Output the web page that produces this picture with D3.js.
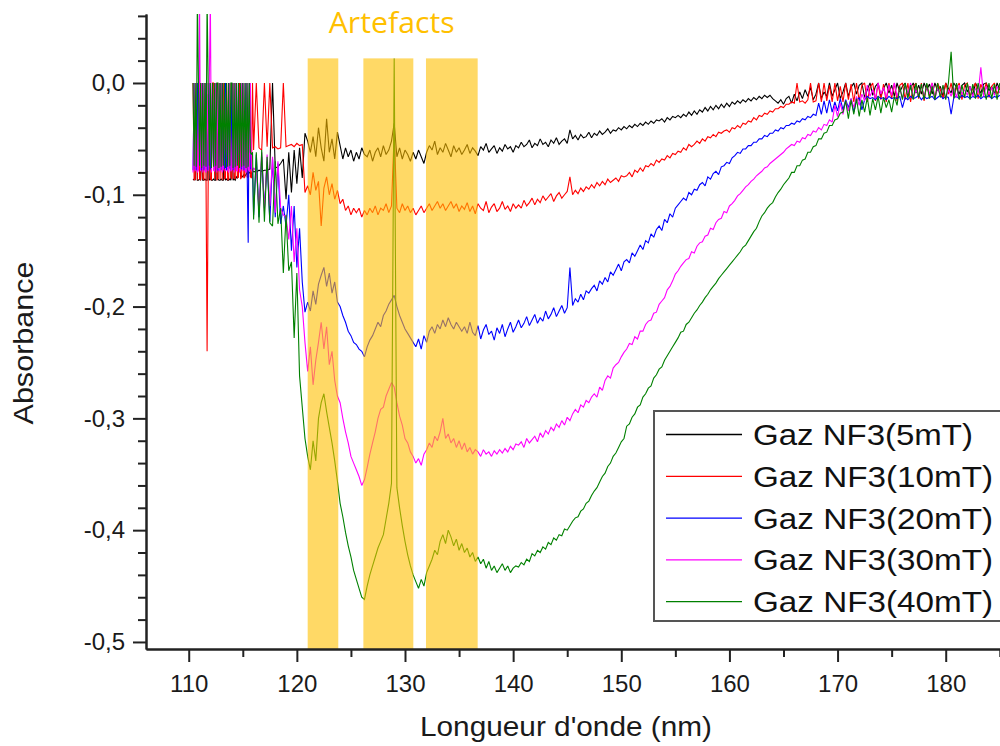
<!DOCTYPE html>
<html><head><meta charset="utf-8">
<script src="https://cdn.jsdelivr.net/npm/d3@7"></script>
<style>
body{margin:0;background:#fff}
svg{display:block}
text{font-family:"Liberation Sans",Arial,sans-serif}
</style>
</head><body>
<svg id="c" width="1000" height="746"></svg>
<script>
// ---------------- DATA ----------------
// Noisy start of each spectrum: 110.4 .. 115.9 nm every 0.1 nm (absorbance x1000)
const leadStart = 110.4, leadStep = 0.1;
// Main part: 116.0 .. 185.0 nm every 0.25 nm (absorbance x1000)
const mainStart = 116.0, mainStep = 0.25;

const seriesNames = ["Gaz NF3(5mT)","Gaz NF3(10mT)","Gaz NF3(20mT)","Gaz NF3(30mT)","Gaz NF3(40mT)"];
const seriesColors = ["#000000","#ff0000","#0000ff","#ff00ff","#008000"];

const lead5mT = [
-87,-86,-87,-20,-87,-87,-86,-87,-60,-87,-87,-86,-87,-87,-10,-87,-86,-87,-87,-86,
-87,-87,0,-86,-87,-87,-86,-87,-87,-40,-87,-86,-87,-87,-86,-87,0,-87,-86,-87,
-84,-85,-84,-30,-84,-83,-84,-82,-83,-82,-80,-81,-80,-81,-80,-80];
const lead10mT = [
0,-87,-86,0,-87,0,-86,-87,0,-85,-87,0,-86,-240,-87,0,-86,-87,0,0,
-86,0,-87,-85,0,-86,0,-87,0,-86,-85,0,-87,-86,0,-84,-86,0,-85,-86,
0,-85,-84,0,-86,-84,0,-85,-84,0,-84,-85,0,-84,-85,0];
const lead20mT = [
-78,0,-77,-78,0,-76,0,-78,-77,0,-78,-76,0,-77,-78,0,-76,-78,0,-77,
-78,0,-76,-78,-77,0,-78,0,-76,-77,0,-78,-77,0,-76,-78,0,-77,-78,0,
-76,-77,0,-78,-76,-77,0,-78,-77,0,-76,-143,0,-77,-76,-78];
const lead30mT = [
-80,0,-79,0,-80,-78,75,-79,0,-80,0,-78,-80,0,-79,0,75,-80,0,-78,
-79,0,-80,0,-78,-79,0,-80,-77,0,-79,0,-78,-80,0,-79,-77,0,-80,0,
-78,-79,0,-80,-77,0,-79,0,-78,-80,0,-77,-79,0,-78,-80];
const lead40mT = [
0,-74,0,-75,75,0,-74,0,-76,0,-74,0,-75,75,0,-74,0,-76,0,-75,
0,-74,0,0,-76,0,-75,0,-74,0,-76,0,-75,0,-74,0,0,-76,0,-75,
0,-74,0,-76,0,-75,0,-74,0,-76,0,-75,0,-62,-64,-62];

const main5mT = [
-79,-80,-78,-79,-78,-78,-77,0,-76,-75,-72,-68,-104,-62,-98,-60,-90,-58,
-85,-45,-52,-62,-48,-66,-40,-58,-70,-32,-62,-50,-68,-44,-56,-68,-58,-66,-60,-70,
-62,-68,-58,-64,-66,-60,-70,-62,-58,-66,-56,-64,-60,-52,-36,-66,-58,-68,-60,-64,
-70,-62,-68,-60,-66,-72,-62,-56,-60,-52,-64,-58,-62,-54,-60,-66,-56,-62,-58,-64,
-60,-55,-63,-58,-61,-65,-57,-60,-54,-62,-59,-56,-63,-58,-61,-55,-59,-57,-62,-56,
-58,-53,-57,-55,-51,-58,-54,-56,-50,-55,-53,-57,-51,-54,-49,-55,-52,-50,-54,-42,
-50,-47,-51,-46,-49,-48,-44,-49,-45,-47,-43,-46,-44,-41,-45,-42,-43,-40,-42,-39,
-41,-38,-40,-37,-39,-36,-38,-35,-37,-34,-36,-33,-34,-32,-35,-31,-33,-30,-31,-29,
-31,-28,-30,-26,-29,-25,-28,-24,-26,-22,-25,-21,-24,-20,-23,-19,-22,-18,-21,-17,
-19,-16,-18,-15,-17,-14,-16,-13,-15,-12,-14,-11,-13,-11,-14,-16,-18,-15,-19,-14,
-12,-18,-10,-16,-8,-14,-6,-12,-4,-15,-10,0,-14,-8,-12,0,-12,-6,0,-14,
-8,0,-12,-4,0,-10,-2,0,-13,-6,0,-11,-3,0,-12,-5,0,-9,-2,-12,
0,-8,-3,0,-11,-4,0,-9,-2,-10,0,-6,-1,-10,0,-7,-3,-12,0,-5,
-9,0,-4,-10,-2,0,-8,-3,-11,0,-5,-9,-1,0,-7,-3,-10,0,-6];
const main10mT = [
-60,0,-58,-60,0,-57,0,-58,-57,-59,-58,0,-57,-56,-55,-57,-54,-56,
-55,-98,-92,-100,-80,-96,-88,-128,-94,-84,-100,-90,-104,-96,-108,-104,-114,-110,-118,-112,
-116,-112,-120,-114,-118,-112,-116,-110,-118,-112,-114,-108,-116,-110,-45,-112,-116,-108,-114,-110,
-116,-112,-118,-114,-110,-116,-112,-108,-114,-110,-106,-112,-108,-114,-110,-106,-112,-108,-115,-110,
-113,-107,-115,-110,-117,-108,-112,-114,-106,-116,-111,-108,-115,-112,-106,-113,-110,-115,-108,-112,
-109,-112,-105,-110,-107,-103,-109,-104,-107,-101,-105,-102,-99,-106,-101,-98,-103,-100,-97,-84,
-100,-96,-99,-94,-97,-93,-95,-91,-94,-89,-92,-88,-91,-86,-89,-87,-85,-88,-83,-84,
-83,-80,-84,-78,-80,-76,-79,-74,-75,-72,-74,-69,-71,-68,-69,-65,-67,-63,-64,-61,
-62,-58,-60,-55,-57,-55,-52,-54,-50,-52,-48,-49,-46,-48,-44,-45,-43,-42,-44,-40,
-41,-38,-40,-36,-37,-34,-35,-31,-33,-29,-30,-27,-28,-25,-26,-23,-23,-21,-22,-19,
-19,-17,-18,0,-17,-16,-18,-15,0,-17,-16,0,-17,0,-16,-2,-17,0,-16,-3,
-17,0,-15,-1,-17,0,-16,-2,0,-17,-4,0,-16,0,-15,-1,-17,0,-14,0,
-16,-2,0,-15,0,-17,-3,0,-14,0,-16,-1,-12,0,-15,0,-6,-14,0,-10,
0,-13,-4,0,-15,-2,0,-12,-5,0,-14,-1,-8,0,-13,-3,0,-10,-4];
const main20mT = [
-118,-64,-120,-66,-112,-70,-124,-68,-120,-72,-126,-110,-128,-100,-150,-110,-165,-130,
-178,-205,-196,-204,-186,-198,-180,-172,-165,-182,-170,-188,-178,-196,-200,-208,-214,-222,-226,-232,
-234,-238,-240,-245,-236,-230,-226,-220,-214,-218,-208,-204,-198,-194,-190,-200,-208,-214,-220,-224,
-228,-232,-236,-229,-238,-226,-232,-222,-218,-224,-216,-220,-212,-218,-210,-216,-220,-214,-218,-222,
-218,-224,-214,-223,-226,-217,-229,-221,-216,-225,-222,-230,-219,-224,-216,-227,-220,-214,-223,-218,
-212,-219,-215,-209,-217,-212,-207,-215,-210,-213,-204,-211,-207,-201,-209,-204,-199,-206,-201,-165,
-199,-193,-196,-189,-194,-186,-188,-184,-181,-186,-177,-180,-174,-178,-169,-172,-167,-162,-168,-160,
-158,-161,-152,-155,-150,-145,-149,-141,-143,-135,-138,-131,-128,-132,-122,-125,-117,-120,-112,-109,
-106,-103,-105,-98,-100,-95,-96,-91,-89,-92,-84,-86,-81,-79,-82,-75,-74,-71,-72,-67,
-65,-62,-63,-59,-59,-56,-56,-53,-53,-50,-50,-47,-48,-45,-45,-42,-43,-40,-41,-38,
-38,-36,-37,-34,-35,-32,-33,-30,-31,-28,-29,-18,-28,-16,-27,-15,-26,-17,-25,-14,
-24,-15,-22,-14,-26,-16,-13,-24,-15,-12,-14,-13,-15,-12,-14,-13,-15,-12,-14,-13,
-14,-12,-22,-13,-15,-12,-14,-13,-11,-15,-12,-14,-13,-12,-15,-13,-11,-14,-12,-13,
-28,-13,-12,-14,-11,-13,-12,-14,-12,-13,-11,-14,-12,-13,-11,-14,-12,-13,-11];
const main30mT = [
-76,-79,-112,-62,-115,-64,-110,-66,-116,-70,-112,-118,-120,-140,-110,-160,-130,-185,
-200,-232,-258,-236,-270,-248,-232,-214,-238,-218,-252,-240,-266,-280,-286,-300,-312,-322,-334,-340,
-346,-352,-360,-355,-344,-332,-322,-312,-300,-292,-290,-280,-274,-268,-272,-286,-298,-306,-318,-322,
-330,-334,-340,-336,-342,-332,-328,-322,-326,-316,-320,-312,-300,-318,-314,-322,-318,-326,-320,-328,
-322,-330,-326,-332,-328,-330,-334,-328,-332,-330,-334,-329,-332,-328,-331,-327,-330,-325,-328,-323,
-324,-321,-326,-318,-322,-319,-316,-321,-313,-317,-311,-314,-308,-311,-305,-308,-302,-306,-299,-302,
-296,-292,-295,-288,-290,-284,-286,-281,-278,-281,-272,-275,-266,-262,-264,-255,-252,-250,-245,-241,
-238,-233,-234,-227,-229,-222,-222,-216,-213,-212,-206,-205,-198,-195,-192,-185,-182,-177,-171,-168,
-164,-161,-158,-157,-151,-152,-146,-143,-142,-137,-136,-130,-131,-125,-122,-121,-115,-116,-110,-108,
-105,-101,-99,-96,-93,-91,-88,-86,-83,-81,-79,-76,-75,-72,-70,-68,-66,-64,-62,-59,
-57,-55,-56,-52,-53,-49,-50,-46,-47,-43,-44,-40,-42,-37,-38,-33,-35,-20,-30,-18,
-28,-16,-25,-14,-22,-12,-20,-10,-16,-2,-12,-6,-14,0,-10,-4,-13,-2,-11,0,
-12,-5,-14,-3,-10,0,-13,-6,-11,-2,-12,-4,-10,0,-13,-5,-11,-3,-14,-6,
-12,-4,-13,-2,-10,-6,-11,-3,-12,-5,-9,14,-12,-3,-10,-4,-11,-3,-9];
const main40mT = [
-122,-62,-125,-60,-124,-66,-125,-128,-70,-126,-112,-170,-118,-168,-160,-228,-170,-262,
-290,-318,-334,-346,-320,-338,-300,-286,-278,-294,-308,-322,-338,-356,-376,-388,-402,-414,-424,-436,
-444,-452,-460,-462,-450,-440,-432,-424,-416,-410,-404,-390,-376,-358,22,-362,-380,-396,-410,-422,
-432,-440,-446,-452,-444,-450,-438,-432,-426,-418,-422,-410,-404,-412,-400,-406,-414,-408,-418,-412,
-420,-416,-424,-420,-428,-424,-430,-426,-434,-428,-436,-432,-438,-434,-430,-436,-432,-438,-434,-432,
-433,-429,-431,-426,-428,-421,-423,-418,-420,-415,-417,-411,-413,-407,-409,-404,-405,-399,-400,-396,
-392,-389,-388,-383,-381,-376,-374,-369,-365,-362,-357,-352,-349,-343,-340,-334,-331,-326,-321,-318,
-307,-305,-299,-296,-290,-288,-281,-278,-273,-271,-264,-261,-256,-254,-248,-244,-240,-236,-232,-228,
-223,-222,-216,-214,-210,-206,-203,-199,-196,-192,-189,-185,-182,-179,-175,-172,-169,-166,-163,-160,
-157,-154,-151,-147,-145,-141,-137,-133,-130,-124,-119,-116,-112,-109,-107,-102,-98,-95,-91,-88,
-85,-80,-80,-74,-74,-69,-68,-62,-62,-57,-56,-50,-50,-45,-44,-38,-38,-33,-32,-27,
-26,-16,-32,-15,-28,-14,-30,-15,-26,-13,-29,-14,-24,-12,-27,-13,-22,-15,-26,-12,
-20,-3,-15,0,-14,-2,-15,0,-13,-1,-15,0,-14,-3,-15,0,-13,-2,-15,0,
28,-14,0,-15,-2,-13,0,-15,-1,-14,0,-13,-3,-15,0,-14,-1,-15,0];

// artefact regions (nm) and their upper edge (absorbance)
const artefactStart = [121.0, 126.15, 131.94];
const artefactEnd   = [123.83, 130.77, 136.72];
const artefactTop = 0.022;
const artefactLabel = "Artefacts";

const xTickValues = [110,120,130,140,150,160,170,180];
const xMinorTicks = [115,125,135,145,155,165,175,185];
const yTickValues = [0,-0.1,-0.2,-0.3,-0.4,-0.5];
const yTickLabels = ["0,0","-0,1","-0,2","-0,3","-0,4","-0,5"];
const yMinorTicks = [0.06,0.04,0.02,-0.02,-0.04,-0.06,-0.08,-0.12,-0.14,-0.16,-0.18,-0.22,-0.24,-0.26,-0.28,-0.32,-0.34,-0.36,-0.38,-0.42,-0.44,-0.46,-0.48];
const xTitle = "Longueur d'onde (nm)";
const yTitle = "Absorbance";

// ---------------- CHART ----------------
const leads = [lead5mT, lead10mT, lead20mT, lead30mT, lead40mT];
const mains = [main5mT, main10mT, main20mT, main30mT, main40mT];
const series = seriesNames.map((n,i)=>({
  name:n, color:seriesColors[i],
  points: leads[i].map((v,j)=>[leadStart + j*leadStep, v])
          .concat(mains[i].map((v,j)=>[mainStart + j*mainStep, v]))
}));
const bands = artefactStart.map((s,i)=>({start:s, end:artefactEnd[i]}));

const W = 1000, H = 746;
const plot = {left:146, right:1000, top:14, bottom:649};
const x = d3.scaleLinear().domain([106.05, 185.02]).range([plot.left, plot.right]);
const y = d3.scaleLinear().domain([-0.5063, 0.0617]).range([plot.bottom, plot.top]);

const svg = d3.select("#c");
svg.append("rect").attr("width",W).attr("height",H).attr("fill","#fff");
svg.append("defs").append("clipPath").attr("id","clip")
  .append("rect").attr("x",plot.left).attr("y",plot.top)
  .attr("width",plot.right-plot.left).attr("height",plot.bottom-plot.top);

const g = svg.append("g").attr("clip-path","url(#clip)");
const line = d3.line()
  .x(d=>x(d[0]))
  .y(d=>y(d[1]/1000))
  .curve(d3.curveLinear);

g.selectAll("path.series").data(series).join("path")
  .attr("class","series")
  .attr("d", d=>line(d.points))
  .attr("fill","none")
  .attr("stroke", d=>d.color)
  .attr("stroke-width",1.1)
  .attr("stroke-linejoin","miter")
  .attr("stroke-miterlimit",2);

g.selectAll("rect.band").data(bands).join("rect")
  .attr("class","band")
  .attr("x", d=>x(d.start))
  .attr("width", d=>x(d.end)-x(d.start))
  .attr("y", y(artefactTop))
  .attr("height", plot.bottom - y(artefactTop))
  .attr("fill","#FFC000")
  .attr("fill-opacity",0.6);

svg.append("text")
  .attr("x", x((artefactStart[0]+artefactEnd[2])/2) - 1)
  .attr("y", 33)
  .attr("text-anchor","middle")
  .style("font-family","'Open Sans','Noto Sans',sans-serif")
  .attr("font-size",29)
  .attr("textLength",126)
  .attr("lengthAdjust","spacingAndGlyphs")
  .attr("fill","#FFC000")
  .text(artefactLabel);

// axes
function styleAxis(sel){
  sel.select(".domain").attr("stroke","#222").attr("stroke-width",2);
  sel.selectAll(".tick line").attr("stroke","#222").attr("stroke-width",2);
  sel.selectAll(".tick text").attr("fill","#1a1a1a").attr("font-size",24)
     .attr("font-family","'Liberation Sans',Arial,sans-serif");
}
const yAxisMinor = svg.append("g").attr("transform",`translate(${plot.left},0)`)
  .call(d3.axisLeft(y).tickValues(yMinorTicks).tickSize(8).tickSizeOuter(0).tickFormat(""));
styleAxis(yAxisMinor);
const yAxis = svg.append("g").attr("transform",`translate(${plot.left},0)`)
  .call(d3.axisLeft(y).tickValues(yTickValues).tickSize(13).tickSizeOuter(0).tickPadding(8)
        .tickFormat((d,i)=>yTickLabels[i]));
styleAxis(yAxis);

const xAxisMinor = svg.append("g").attr("transform",`translate(0,${plot.bottom})`)
  .call(d3.axisBottom(x).tickValues(xMinorTicks).tickSize(8).tickSizeOuter(0).tickFormat(""));
styleAxis(xAxisMinor);
const xAxis = svg.append("g").attr("transform",`translate(0,${plot.bottom})`)
  .call(d3.axisBottom(x).tickValues(xTickValues).tickSize(13).tickSizeOuter(0).tickPadding(13)
        .tickFormat(d=>String(d)));
styleAxis(xAxis);

svg.append("text")
  .attr("transform","translate(33,343) rotate(-90)")
  .attr("text-anchor","middle")
  .attr("font-size",27)
  .attr("textLength",163).attr("lengthAdjust","spacingAndGlyphs")
  .attr("fill","#1a1a1a")
  .text(yTitle);

svg.append("text")
  .attr("x",566).attr("y",736)
  .attr("text-anchor","middle")
  .attr("font-size",27)
  .attr("textLength",292).attr("lengthAdjust","spacingAndGlyphs")
  .attr("fill","#1a1a1a")
  .text(xTitle);

// legend
const legend = svg.append("g");
legend.append("rect")
  .attr("x",654).attr("y",411).attr("width",360).attr("height",210)
  .attr("fill","#fff").attr("stroke","#555").attr("stroke-width",2);
const rowH = 41.8, row0 = 434.5;
const rows = legend.selectAll("g.row").data(series).join("g")
  .attr("class","row")
  .attr("transform",(d,i)=>`translate(0,${row0 + i*rowH})`);
rows.append("line").attr("x1",666).attr("x2",742).attr("y1",0).attr("y2",0)
  .attr("stroke",d=>d.color).attr("stroke-width",1.3);
rows.append("text").attr("x",753).attr("y",10.5)
  .attr("font-size",30)
  .attr("textLength",(d,i)=> i===0 ? 220 : 240).attr("lengthAdjust","spacingAndGlyphs")
  .attr("fill","#111")
  .text(d=>d.name);
</script>
</body></html>
